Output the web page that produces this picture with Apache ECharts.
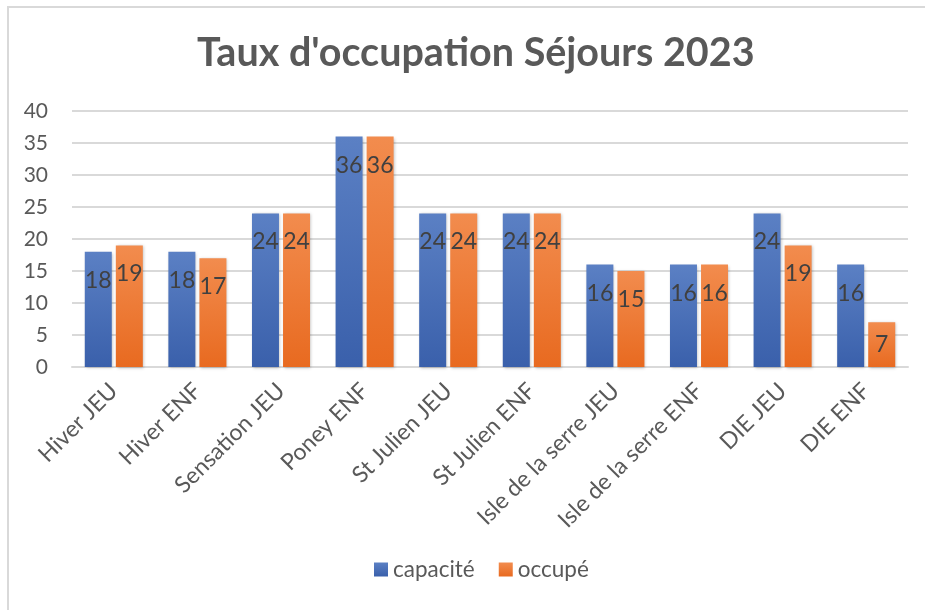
<!DOCTYPE html>
<html>
<head>
<meta charset="utf-8">
<script src="https://cdn.jsdelivr.net/npm/echarts@6/dist/echarts.min.js"></script>
<style>
  html, body { margin: 0; padding: 0; background: #fff; }
  #frame {
    position: absolute; left: 7px; top: 6px; width: 918px; height: 604px;
    border-top: 2px solid #d9d9d9; border-left: 2px solid #d9d9d9;
  }
  #chart { position: absolute; left: 0; top: 0; width: 925px; height: 610px; }
</style>
</head>
<body>
<div id="frame"></div>
<div id="chart"></div>
<script>
// catégories et valeurs
const categories = [
  "Hiver JEU", "Hiver ENF", "Sensation JEU", "Poney ENF", "St Julien JEU",
  "St Julien ENF", "Isle de la serre JEU", "Isle de la serre ENF", "DIE JEU", "DIE ENF"
];
const capacite = [18, 18, 24, 36, 24, 24, 16, 16, 24, 16];
const occupe = [19, 17, 24, 36, 24, 24, 15, 16, 19, 7];
const yTicks = [0, 5, 10, 15, 20, 25, 30, 35, 40];

const textColor = "#595959";
const font = "Lato";

function gradient(top, bottom) {
  return new echarts.graphic.LinearGradient(0, 0, 0, 1, [
    { offset: 0, color: top },
    { offset: 1, color: bottom },
  ]);
}

// étiquette "inside end", centrée si la barre est trop courte
function withLabels(values) {
  return values.map((v) => ({
    value: v,
    label: v < 10 ? { position: "inside" } : { position: "insideTop", distance: 17 },
  }));
}

function makeSeries(name, values, top, bottom) {
  return {
    name: name,
    type: "bar",
    barWidth: 27,
    barGap: "15%",
    data: withLabels(values),
    itemStyle: {
      color: gradient(top, bottom),
      shadowBlur: 3,
      shadowColor: "rgba(0,0,0,0.25)",
      shadowOffsetX: 1,
      shadowOffsetY: 1,
    },
    label: {
      show: true,
      color: "#404040",
      fontSize: 23,
      fontFamily: font,
    },
  };
}

const chart = echarts.init(document.getElementById("chart"));
const option = {
  animation: false,
  title: {
    text: "Taux d'occupation Séjours 2023",
    left: 192,
    top: 28,
    textStyle: { color: textColor, fontSize: 39.5, fontWeight: "bold", fontFamily: font },
  },
  legend: {
    bottom: 24,
    left: 369,
    itemWidth: 14,
    itemHeight: 14,
    itemGap: 24,
    icon: "rect",
    textStyle: { color: textColor, fontSize: 22.5, fontFamily: font },
    data: ["capacité", "occupé"],
  },
  grid: { left: 72, right: 17, top: 111, bottom: 243 },
  xAxis: {
    type: "category",
    data: categories,
    axisTick: { show: false },
    axisLine: { lineStyle: { color: "#d9d9d9", width: 2 } },
    axisLabel: {
      rotate: 45,
      interval: 0,
      margin: 20,
      color: textColor,
      fontSize: 23,
      fontFamily: font,
    },
  },
  yAxis: {
    type: "value",
    min: yTicks[0],
    max: yTicks[yTicks.length - 1],
    interval: 5,
    axisLine: { show: false },
    axisTick: { show: false },
    axisLabel: { color: textColor, fontSize: 21, fontFamily: font, margin: 24 },
    splitLine: { lineStyle: { color: "#d9d9d9", width: 2 } },
  },
  series: [
    makeSeries("capacité", capacite, "#5b80c4", "#3a60ab"),
    makeSeries("occupé", occupe, "#f28c4e", "#e86a20"),
  ],
};
chart.setOption(option);
</script>
</body>
</html>
